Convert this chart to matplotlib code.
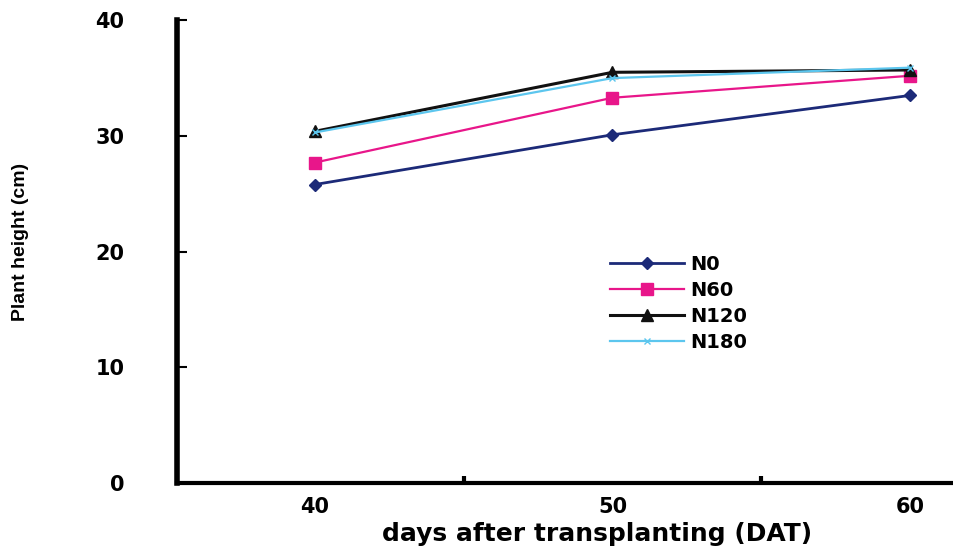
import matplotlib
matplotlib.use("Agg")
import matplotlib.pyplot as plt

days = ["40", "50", "60"]
n0 = [25.8, 30.1, 33.5]
n60 = [27.7, 33.3, 35.2]
n120 = [30.4, 35.5, 35.7]
n180 = [30.3, 35.0, 35.9]
series_names = ["N0", "N60", "N120", "N180"]
y_ticks = [0, 10, 20, 30, 40]

fig = plt.figure(figsize=(9.54, 5.47), dpi=100)
ax = fig.add_axes([0.1855, 0.117, 0.8145, 0.846])

x = list(range(len(days)))
ax.plot(x, n0, color="#1c2a78", lw=2, marker="D", ms=6, label=series_names[0])
ax.plot(x, n60, color="#e8168a", lw=1.6, marker="s", ms=9, label=series_names[1])
ax.plot(x, n120, color="#111111", lw=2.2, marker="^", ms=8, label=series_names[2])
ax.plot(x, n180, color="#5cc6ee", lw=1.6, marker="x", ms=5, label=series_names[3])

ax.set_xlim(-0.464, 2.148)
ax.set_ylim(0, 40)
ax.set_yticks(y_ticks)
ax.set_yticklabels([str(v) for v in y_ticks], fontsize=15, fontweight="bold",
                   family="DejaVu Sans")
ax.set_xticks(x)
ax.set_xticklabels(days, fontsize=15, fontweight="bold", family="DejaVu Sans")
ax.set_xticks([0.5, 1.5], minor=True)

ax.tick_params(axis="y", direction="in", length=7, width=1.5, pad=38)
ax.tick_params(axis="x", which="major", length=0, pad=10)
ax.tick_params(axis="x", which="minor", direction="in", length=5, width=3)

for s in ["top", "right"]:
    ax.spines[s].set_visible(False)
ax.spines["left"].set_linewidth(4)
ax.spines["bottom"].set_linewidth(3)

ax.set_ylabel("Plant height (cm)", fontsize=14, family="Liberation Sans", fontweight="bold")
ax.yaxis.set_label_coords(-0.19, 0.52)
ax.set_xlabel("days after transplanting (DAT)", fontsize=18, fontweight="bold",
              family="DejaVu Sans")
ax.xaxis.set_label_coords(0.54, -0.085)

leg = ax.legend(loc="upper left", bbox_to_anchor=(0.535, 0.53), frameon=False,
                prop={"family": "DejaVu Sans", "weight": "bold", "size": 14},
                handlelength=3.8, handletextpad=0.3, labelspacing=0.35)

fig.savefig("out.png", dpi=100)
